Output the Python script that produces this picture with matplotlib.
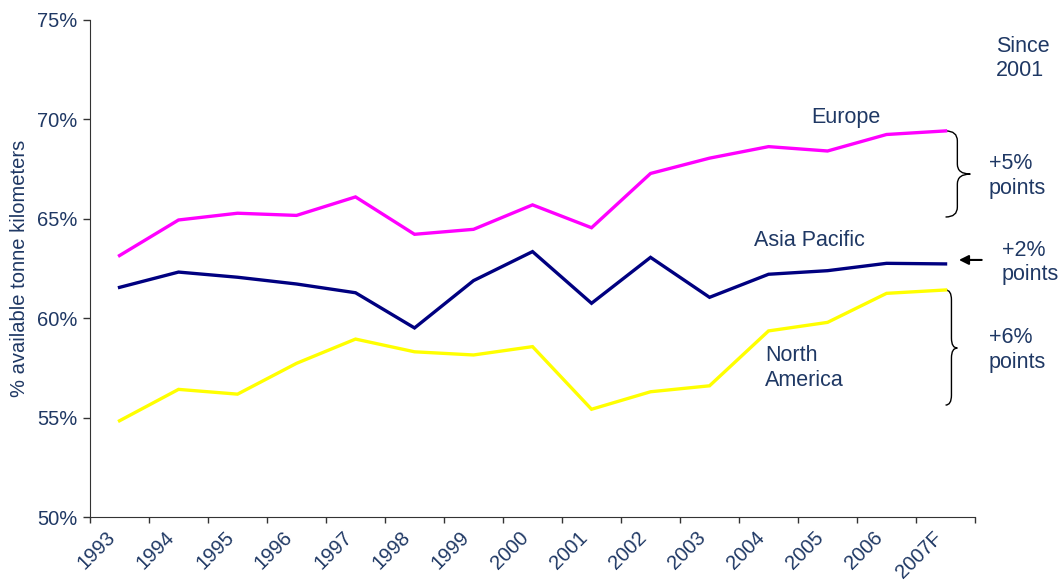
import matplotlib.pyplot as plt
from matplotlib.path import Path
from matplotlib.patches import PathPatch
from matplotlib.ticker import FixedLocator

plt.rcParams['font.family'] = ['Liberation Sans', 'DejaVu Sans']

#data
years = ['1993', '1994', '1995', '1996', '1997', '1998', '1999', '2000',
         '2001', '2002', '2003', '2004', '2005', '2006', '2007F']
europe = [63.15, 64.94, 65.28, 65.17, 66.1, 64.22, 64.47, 65.7,
          64.55, 67.28, 68.05, 68.63, 68.41, 69.24, 69.42]
asia_pacific = [61.55, 62.32, 62.06, 61.72, 61.28, 59.51, 61.89, 63.35,
                60.75, 63.06, 61.05, 62.21, 62.39, 62.76, 62.73]
north_america = [54.84, 56.42, 56.18, 57.73, 58.95, 58.31, 58.15, 58.57,
                 55.42, 56.3, 56.6, 59.36, 59.79, 61.25, 61.42]

text_color = '#1F3864'


def brace(ax, x0, xv, xtip, top, bottom, mid, r):
    verts = [(x0, top), (xv, top), (xv, top - r),
             (xv, mid + r), (xv, mid), (xtip, mid),
             (xv, mid), (xv, mid - r),
             (xv, bottom + r), (xv, bottom), (x0, bottom)]
    codes = [Path.MOVETO, Path.CURVE3, Path.CURVE3,
             Path.LINETO, Path.CURVE3, Path.CURVE3,
             Path.CURVE3, Path.CURVE3,
             Path.LINETO, Path.CURVE3, Path.CURVE3]
    patch = PathPatch(Path(verts, codes), fill=False, lw=1.0, color='black', clip_on=False)
    ax.add_patch(patch)


fig = plt.figure(figsize=(10.64, 5.84), dpi=100)
ax = fig.add_axes([0.0846, 0.1147, 0.8318, 0.8511])

x = list(range(len(years)))
ax.plot(x, europe, color='#FF00FF', lw=2.4, solid_joinstyle='miter')
ax.plot(x, asia_pacific, color='#000080', lw=2.4, solid_joinstyle='miter')
ax.plot(x, north_america, color='#FFFF00', lw=2.4, solid_joinstyle='miter')

ax.set_xlim(-0.5, len(years) - 0.5)
ax.set_ylim(50, 75)
ax.set_yticks([50, 55, 60, 65, 70, 75])
ax.set_yticklabels(['50%', '55%', '60%', '65%', '70%', '75%'])
ax.set_xticks(x)
ax.set_xticklabels(years, rotation=45, ha='right')
ax.xaxis.set_minor_locator(FixedLocator([i - 0.5 for i in range(len(years) + 1)]))
ax.tick_params(axis='x', which='major', length=0, pad=8, labelsize=14.5, labelcolor=text_color)
ax.tick_params(axis='x', which='minor', length=4, width=1, color='#333333')
ax.tick_params(axis='y', length=5, width=1, color='#333333', labelsize=14.5, labelcolor=text_color, pad=4)
for s in ['top', 'right']:
    ax.spines[s].set_visible(False)
for s in ['left', 'bottom']:
    ax.spines[s].set_color('#333333')
ax.set_ylabel('% available tonne kilometers', fontsize=14.5, color=text_color, labelpad=6)

#labels
ax.text(11.73, 70.1, 'Europe', fontsize=15.5, color=text_color, va='center')
ax.text(10.75, 63.93, 'Asia Pacific', fontsize=15.5, color=text_color, va='center')
ax.text(10.94, 57.5, 'North\nAmerica', fontsize=15.5, color=text_color, va='center')
ax.text(14.85, 73.06, 'Since\n2001', fontsize=15.5, color=text_color, va='center', clip_on=False)
ax.text(14.73, 67.15, '+5%\npoints', fontsize=15.5, color=text_color, va='center', clip_on=False)
ax.text(14.95, 62.8, '+2%\npoints', fontsize=15.5, color=text_color, va='center', clip_on=False)
ax.text(14.73, 58.4, '+6%\npoints', fontsize=15.5, color=text_color, va='center', clip_on=False)

brace(ax, 14.0, 14.2, 14.42, 69.42, 65.09, 67.25, 0.5)
brace(ax, 14.0, 14.1, 14.2, 61.42, 55.63, 58.5, 0.5)
ax.annotate('', xy=(14.18, 62.93), xytext=(14.66, 62.93), annotation_clip=False,
            arrowprops=dict(arrowstyle='-|>', color='black', lw=1.5, mutation_scale=14))

plt.savefig('out.png', dpi=100)
